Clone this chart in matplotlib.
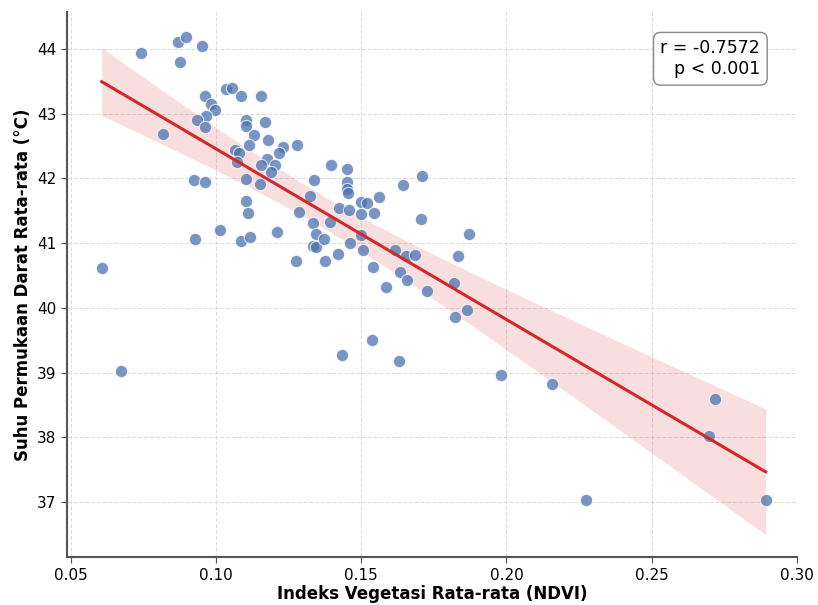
import matplotlib
matplotlib.use("Agg")
import matplotlib.pyplot as plt
import numpy as np

# NDVI vs land surface temperature
ndvi = [0.0741, 0.0870, 0.0898, 0.0953, 0.0877, 0.1035, 0.1054, 0.1085, 0.1154,
        0.0961, 0.0981, 0.0998, 0.0965, 0.0934, 0.0963, 0.0816, 0.1102, 0.1104,
        0.1170, 0.1131, 0.1179, 0.1115, 0.1229, 0.1217, 0.1278, 0.1064, 0.1078,
        0.1072, 0.1174, 0.1203, 0.1156, 0.1188, 0.1102, 0.1150, 0.1337, 0.0923,
        0.0961, 0.1322, 0.1102, 0.1110, 0.1285, 0.1335, 0.1344, 0.1013, 0.0928,
        0.1087, 0.1117, 0.1211, 0.1333, 0.1345, 0.1277, 0.0606, 0.0673,
        0.1395, 0.1452, 0.1452, 0.1452, 0.1456, 0.1645, 0.1711, 0.1560, 0.1501,
        0.1519, 0.1424, 0.1459, 0.1544, 0.1498, 0.1706, 0.1394, 0.1872, 0.1372,
        0.1460, 0.1499, 0.1506, 0.1377, 0.1421, 0.1617, 0.1653, 0.1684, 0.1835,
        0.1539, 0.1633, 0.1657, 0.1584, 0.1728, 0.1820, 0.1864, 0.1824, 0.1538,
        0.1434, 0.1631, 0.1980, 0.2156, 0.2273, 0.2719, 0.2699, 0.2893]
lst = [43.94, 44.11, 44.19, 44.04, 43.80, 43.38, 43.40, 43.28, 43.27,
       43.28, 43.15, 43.06, 42.97, 42.90, 42.79, 42.68, 42.90, 42.81,
       42.87, 42.67, 42.59, 42.52, 42.49, 42.39, 42.51, 42.44, 42.40,
       42.26, 42.30, 42.21, 42.21, 42.10, 41.99, 41.91, 41.98, 41.98,
       41.94, 41.73, 41.65, 41.47, 41.48, 41.31, 41.14, 41.20, 41.07,
       41.04, 41.09, 41.17, 40.96, 40.94, 40.73, 40.62, 39.02,
       42.21, 42.15, 41.95, 41.83, 41.77, 41.90, 42.04, 41.72, 41.64,
       41.62, 41.55, 41.52, 41.47, 41.45, 41.38, 41.33, 41.14, 41.06,
       41.01, 41.12, 40.89, 40.73, 40.83, 40.89, 40.81, 40.82, 40.80,
       40.63, 40.56, 40.43, 40.33, 40.26, 40.39, 39.97, 39.86, 39.50,
       39.27, 39.18, 38.97, 38.82, 37.04, 38.59, 38.02, 37.04]

x = np.array(ndvi)
y = np.array(lst)

# linear fit + confidence band of the mean
n = len(x)
slope, intercept = np.polyfit(x, y, 1)
xs = np.linspace(x.min(), x.max(), 100)
ys = intercept + slope * xs
resid = y - (intercept + slope * x)
s_err = np.sqrt(np.sum(resid ** 2) / (n - 2))
se = s_err * np.sqrt(1 / n + (xs - x.mean()) ** 2 / np.sum((x - x.mean()) ** 2))
t_val = 2.63

fig = plt.figure(figsize=(8.18, 6.05), dpi=100)
ax = fig.add_axes([0.082, 0.079, 0.892, 0.901])

ax.grid(True, linestyle="--", color="#dddddd", linewidth=0.8)
ax.set_axisbelow(True)

ax.scatter(x, y, s=78, color="#4C72B0", alpha=0.75, edgecolor="white", linewidth=0.8, zorder=3)
ax.fill_between(xs, ys - t_val * se, ys + t_val * se, color="#d62728", alpha=0.15, linewidth=0, zorder=2)
ax.plot(xs, ys, color="#d62728", linewidth=2.2, zorder=4)

ax.set_xlim(0.0487, 0.300)
ax.set_ylim(36.15, 44.57)
ax.set_xticks([0.05, 0.10, 0.15, 0.20, 0.25, 0.30])
ax.set_yticks([37, 38, 39, 40, 41, 42, 43, 44])
ax.tick_params(labelsize=11, color="#555555", length=4)

for side in ["top", "right"]:
    ax.spines[side].set_visible(False)
for side in ["left", "bottom"]:
    ax.spines[side].set_color("#555555")
    ax.spines[side].set_linewidth(1.5)

ax.set_xlabel("Indeks Vegetasi Rata-rata (NDVI)", fontsize=12, fontweight="bold", labelpad=2)
ax.set_ylabel("Suhu Permukaan Darat Rata-rata (°C)", fontsize=12, fontweight="bold")

ax.text(0.95, 0.95, "r = -0.7572\np < 0.001", transform=ax.transAxes, ha="right", va="top",
        fontsize=12.5, bbox=dict(boxstyle="round,pad=0.4", facecolor="white", edgecolor="#888888"))

fig.savefig("out.png", dpi=100)
